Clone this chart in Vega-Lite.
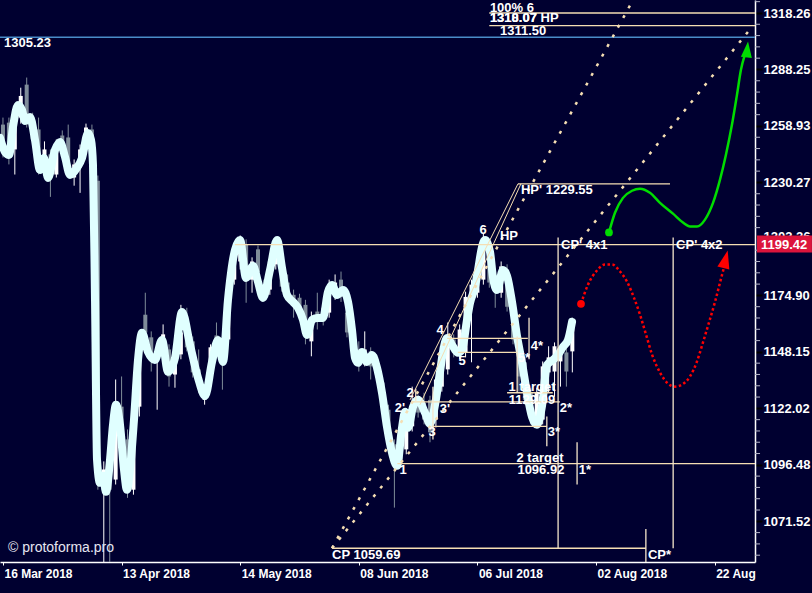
{
"$schema": "https://vega.github.io/schema/vega-lite/v6.json",
"width": 755, "height": 562,
"autosize": "none",
"padding": {"left": 0, "top": 0, "right": 57, "bottom": 31},
"background": "#000030",
"config": {"view": {"stroke": null}, "font": "Liberation Sans"},
"datasets": {
"candles": [
{"t":0,"o":1259.6,"h":1263.2,"l":1242.8,"c":1246.9},{"t":1,"o":1260.6,"h":1263.2,"l":1239.3,"c":1243.3},{"t":2,"o":1246.9,"h":1269.3,"l":1234.2,"c":1266.2},{"t":3,"o":1263.2,"h":1278.7,"l":1260.1,"c":1274.4},{"t":4,"o":1280.3,"h":1284.0,"l":1258.1,"c":1259.6},{"t":5,"o":1263.2,"h":1265.7,"l":1248.9,"c":1252.0},{"t":6,"o":1257.1,"h":1263.2,"l":1234.2,"c":1235.7},{"t":7,"o":1235.7,"h":1251.0,"l":1233.7,"c":1246.9},{"t":8,"o":1244.4,"h":1246.9,"l":1223.0,"c":1232.7},{"t":9,"o":1234.2,"h":1252.0,"l":1232.7,"c":1249.4},
{"t":10,"o":1254.0,"h":1256.6,"l":1246.9,"c":1248.4},{"t":11,"o":1253.0,"h":1259.6,"l":1237.8,"c":1240.8},{"t":12,"o":1232.7,"h":1241.8,"l":1228.6,"c":1239.3},{"t":13,"o":1237.8,"h":1249.4,"l":1225.0,"c":1246.9},{"t":14,"o":1249.4,"h":1260.1,"l":1246.9,"c":1258.1},{"t":15,"o":1257.1,"h":1259.6,"l":1231.7,"c":1234.2},{"t":16,"o":1231.1,"h":1233.7,"l":1085.3,"c":1094.3},{"t":17,"o":1085.3,"h":1097.9,"l":1050,"c":1094.3},{"t":18,"o":1094.3,"h":1098.8,"l":1050,"c":1085.3},{"t":19,"o":1089.8,"h":1135.2,"l":1087.6,"c":1123.6},
{"t":20,"o":1122.7,"h":1136.6,"l":1107.8,"c":1111.0},{"t":21,"o":1107.8,"h":1112.3,"l":1081.7,"c":1085.3},{"t":22,"o":1085.3,"h":1121.3,"l":1083.1,"c":1116.8},{"t":23,"o":1122.7,"h":1153.0,"l":1118.2,"c":1150.7},{"t":24,"o":1165.6,"h":1176.1,"l":1153.9,"c":1157.2},{"t":25,"o":1154.9,"h":1157.7,"l":1138.9,"c":1144.6},{"t":26,"o":1144.6,"h":1151.6,"l":1121.3,"c":1148.3},{"t":27,"o":1146.9,"h":1161.0,"l":1144.6,"c":1156.3},{"t":28,"o":1149.2,"h":1151.6,"l":1131.9,"c":1136.6},{"t":29,"o":1137.5,"h":1146.9,"l":1131.4,"c":1144.6},
{"t":30,"o":1146.9,"h":1170.3,"l":1144.6,"c":1157.2},{"t":31,"o":1161.9,"h":1168.9,"l":1148.3,"c":1150.2},{"t":32,"o":1153.0,"h":1155.3,"l":1136.1,"c":1138.5},{"t":33,"o":1139.9,"h":1149.2,"l":1129.1,"c":1132.8},{"t":34,"o":1125.8,"h":1132.8,"l":1123.6,"c":1130.5},{"t":35,"o":1135.2,"h":1151.6,"l":1132.8,"c":1150.2},{"t":36,"o":1155.8,"h":1161.9,"l":1148.3,"c":1150.7},{"t":37,"o":1151.6,"h":1153.9,"l":1130.5,"c":1142.2},{"t":38,"o":1153.9,"h":1181.5,"l":1151.6,"c":1179.0},{"t":39,"o":1182.4,"h":1198.1,"l":1180.0,"c":1194.6},
{"t":40,"o":1191.2,"h":1203.9,"l":1187.3,"c":1199.5},{"t":41,"o":1199.5,"h":1202.0,"l":1171.3,"c":1187.3},{"t":42,"o":1182.4,"h":1193.2,"l":1176.1,"c":1191.2},{"t":43,"o":1197.1,"h":1199.0,"l":1180.0,"c":1185.9},{"t":44,"o":1180.0,"h":1182.4,"l":1172.7,"c":1173.7},{"t":45,"o":1177.6,"h":1193.2,"l":1175.1,"c":1191.2},{"t":46,"o":1189.8,"h":1202.9,"l":1187.3,"c":1199.5},{"t":47,"o":1193.2,"h":1196.1,"l":1176.6,"c":1179.0},{"t":48,"o":1181.0,"h":1184.9,"l":1173.7,"c":1176.1},{"t":49,"o":1175.1,"h":1177.6,"l":1164.2,"c":1171.3},
{"t":50,"o":1173.7,"h":1175.6,"l":1165.6,"c":1168.0},{"t":51,"o":1170.3,"h":1172.7,"l":1151.6,"c":1158.6},{"t":52,"o":1153.0,"h":1167.1,"l":1146.0,"c":1164.2},{"t":53,"o":1167.1,"h":1176.1,"l":1158.6,"c":1162.4},{"t":54,"o":1168.9,"h":1171.3,"l":1160.5,"c":1162.4},{"t":55,"o":1166.6,"h":1182.4,"l":1164.2,"c":1180.0},{"t":56,"o":1175.1,"h":1184.9,"l":1172.7,"c":1181.0},{"t":57,"o":1182.4,"h":1186.3,"l":1171.7,"c":1174.1},{"t":58,"o":1166.6,"h":1170.3,"l":1154.9,"c":1157.2},{"t":59,"o":1157.2,"h":1160.5,"l":1146.9,"c":1149.2},
{"t":60,"o":1149.2,"h":1153.0,"l":1138.9,"c":1142.2},{"t":61,"o":1142.2,"h":1157.7,"l":1141.3,"c":1149.2},{"t":62,"o":1148.3,"h":1150.2,"l":1135.2,"c":1141.3},{"t":63,"o":1144.6,"h":1146.9,"l":1135.2,"c":1137.5},{"t":64,"o":1133.8,"h":1136.1,"l":1123.6,"c":1125.8},{"t":65,"o":1121.3,"h":1123.6,"l":1103.3,"c":1105.6},{"t":66,"o":1105.6,"h":1107.8,"l":1077.4,"c":1096.6},{"t":67,"o":1098.8,"h":1112.3,"l":1096.6,"c":1110.1},{"t":68,"o":1103.3,"h":1120.4,"l":1101.1,"c":1118.2},{"t":69,"o":1113.7,"h":1131.9,"l":1111.4,"c":1122.7},
{"t":70,"o":1125.8,"h":1128.2,"l":1117.7,"c":1120.0},{"t":71,"o":1124.5,"h":1129.1,"l":1114.6,"c":1116.8},{"t":72,"o":1125.8,"h":1127.7,"l":1106.5,"c":1111.0},{"t":73,"o":1116.8,"h":1136.1,"l":1113.2,"c":1135.2},{"t":74,"o":1131.9,"h":1153.0,"l":1129.6,"c":1150.7},{"t":75,"o":1139.9,"h":1161.9,"l":1137.5,"c":1151.6},{"t":76,"o":1153.9,"h":1156.3,"l":1145.5,"c":1147.8},{"t":77,"o":1146.9,"h":1161.0,"l":1144.6,"c":1158.6},{"t":78,"o":1147.8,"h":1176.6,"l":1145.5,"c":1174.1},{"t":79,"o":1172.7,"h":1182.4,"l":1143.2,"c":1180.0},
{"t":80,"o":1176.1,"h":1189.8,"l":1173.7,"c":1185.9},{"t":81,"o":1182.4,"h":1204.9,"l":1180.0,"c":1202.0},{"t":82,"o":1195.6,"h":1198.1,"l":1178.5,"c":1181.0},{"t":83,"o":1182.4,"h":1184.4,"l":1168.9,"c":1176.6},{"t":84,"o":1176.1,"h":1191.2,"l":1173.7,"c":1188.8},{"t":85,"o":1187.3,"h":1189.8,"l":1167.1,"c":1169.4},{"t":86,"o":1174.1,"h":1176.6,"l":1151.6,"c":1153.9},{"t":87,"o":1147.8,"h":1150.2,"l":1129.6,"c":1136.6},{"t":88,"o":1143.2,"h":1145.5,"l":1123.6,"c":1125.8},{"t":89,"o":1129.1,"h":1131.4,"l":1114.6,"c":1116.8},
{"t":90,"o":1116.8,"h":1131.4,"l":1114.6,"c":1129.1},{"t":91,"o":1116.8,"h":1143.6,"l":1114.6,"c":1141.3},{"t":92,"o":1138.5,"h":1150.7,"l":1129.1,"c":1145.5},{"t":93,"o":1138.9,"h":1152.5,"l":1127.2,"c":1150.7},{"t":94,"o":1143.6,"h":1151.6,"l":1131.9,"c":1149.2},{"t":95,"o":1147.8,"h":1150.2,"l":1131.9,"c":1138.9},{"t":96,"o":1148.3,"h":1164.2,"l":1138.5,"c":1163.3}
],
"smooth": [
{"t":-0.5,"p":1252.75},{"t":0.34,"p":1245.62},{"t":1.02,"p":1244.1},{"t":1.69,"p":1258.39},{"t":2.54,"p":1269.73},{"t":3.21,"p":1267.14},{"t":3.72,"p":1261.47},{"t":4.56,"p":1263.53},{"t":5.4,"p":1251.73},{"t":6.24,"p":1236.51},{"t":6.92,"p":1242.58},{"t":7.59,"p":1232.49},{"t":8.77,"p":1246.64},{"t":9.62,"p":1250.71},{"t":10.46,"p":1243.08},{"t":11.3,"p":1233.99},{"t":12.48,"p":1237.52},{"t":13.33,"p":1242.58},{"t":14.34,"p":1255.31},{"t":14.84,"p":1251.73},{"t":15.18,"p":1239.03},{"t":15.52,"p":1172.67},{"t":15.86,"p":1098.6},{"t":16.36,"p":1088.35},{"t":16.87,"p":1091.46},{"t":17.37,"p":1084.36},{"t":18.05,"p":1098.6},{"t":18.55,"p":1114.39},{"t":19.06,"p":1123.52},{"t":19.73,"p":1114.39},{"t":20.41,"p":1094.13},{"t":20.91,"p":1085.24},{"t":21.42,"p":1094.13},{"t":22.09,"p":1116.67},{"t":22.77,"p":1144.32},{"t":23.44,"p":1157.0},{"t":24.45,"p":1148.06},{"t":25.63,"p":1144.32},{"t":26.82,"p":1153.69},{"t":27.83,"p":1138.74},{"t":29.01,"p":1145.26},{"t":30.19,"p":1166.94},{"t":31.54,"p":1151.35},{"t":32.89,"p":1135.96},{"t":34.07,"p":1127.65},{"t":35.25,"p":1143.39},{"t":36.26,"p":1153.69},{"t":37.1,"p":1143.39},{"t":37.94,"p":1172.67},{"t":39.12,"p":1196.82},{"t":39.97,"p":1201.71},{"t":40.98,"p":1183.24},{"t":42.16,"p":1189.04},{"t":43.0,"p":1181.31},{"t":43.84,"p":1173.63},{"t":45.03,"p":1187.1},{"t":46.21,"p":1201.71},{"t":47.05,"p":1188.07},{"t":47.89,"p":1175.07},{"t":48.9,"p":1171.71},{"t":49.75,"p":1168.85},{"t":50.59,"p":1163.14},{"t":51.26,"p":1156.05},{"t":52.11,"p":1163.14},{"t":52.95,"p":1164.09},{"t":53.96,"p":1164.09},{"t":54.8,"p":1176.5},{"t":55.48,"p":1179.87},{"t":56.32,"p":1175.07},{"t":57.33,"p":1177.46},{"t":58.18,"p":1171.71},{"t":58.85,"p":1158.41},{"t":59.36,"p":1145.26},{"t":59.86,"p":1142.93},{"t":60.54,"p":1148.06},{"t":61.38,"p":1143.39},{"t":62.22,"p":1146.66},{"t":63.07,"p":1140.6},{"t":63.91,"p":1129.03},{"t":64.75,"p":1113.49},{"t":65.6,"p":1101.74},{"t":66.44,"p":1095.92},{"t":67.28,"p":1113.03},{"t":67.79,"p":1120.32},{"t":68.29,"p":1113.03},{"t":69.14,"p":1122.6},{"t":69.98,"p":1125.81},{"t":71.16,"p":1119.86},{"t":72.0,"p":1114.85},{"t":72.85,"p":1123.52},{"t":73.69,"p":1138.74},{"t":74.19,"p":1148.06},{"t":74.87,"p":1154.63},{"t":75.71,"p":1151.35},{"t":76.72,"p":1147.6},{"t":77.4,"p":1149.0},{"t":78.24,"p":1163.14},{"t":78.75,"p":1171.24},{"t":79.59,"p":1178.9},{"t":80.1,"p":1187.1},{"t":80.77,"p":1198.29},{"t":81.28,"p":1201.71},{"t":82.12,"p":1195.85},{"t":82.63,"p":1183.24},{"t":83.3,"p":1177.46},{"t":84.31,"p":1187.1},{"t":84.99,"p":1184.2},{"t":85.83,"p":1171.71},{"t":86.67,"p":1155.58},{"t":87.52,"p":1142.93},{"t":88.36,"p":1129.03},{"t":89.2,"p":1118.04},{"t":90.04,"p":1114.39},{"t":90.89,"p":1123.06},{"t":91.73,"p":1141.99},{"t":92.74,"p":1144.32},{"t":93.58,"p":1146.66},{"t":94.43,"p":1150.41},{"t":95.27,"p":1153.69},{"t":95.95,"p":1162.19}
],
"blue": [{"t":-0.5,"t2":126.8,"p":1305.23}],
"levels": [
{"name":"100% 6","t":82,"t2":126.8,"p":1318.26},
{"name":"1311.50","t":82,"t2":126.8,"p":1311.5},
{"name":"HP'","t":86.84,"t2":112.47,"p":1229.55},
{"name":"HP","t":39.1,"t2":126.8,"p":1199.42},
{"name":"2 target","t":66.5,"t2":126.8,"p":1096.92},
{"name":"3","t":72.3,"t2":91.7,"p":1113.67},
{"name":"2","t":69.1,"t2":93.9,"p":1124.9},
{"name":"4","t":74.9,"t2":88.5,"p":1154.4},
{"name":"5","t":76.7,"t2":86.7,"p":1147.8},
{"name":"1 target","t":85.0,"t2":92.7,"p":1129.09},
{"name":"CP","t":55.5,"t2":108.4,"p":1059.69}
],
"vlines": [
{"name":"CP' 4x1","t":93.6,"p":1202.9,"p2":1059.69},
{"name":"CP' 4x2","t":113.0,"p":1202.9,"p2":1059.69},
{"name":"CP*","t":108.4,"p":1068.0,"p2":1053.76},
{"name":"1*","t":96.8,"p":1106.5,"p2":1087.6},
{"name":"3*","t":91.7,"p":1118.2,"p2":1104.7},
{"name":"4*","t":88.7,"p":1164.2,"p2":1144.6},
{"name":"5*","t":86.7,"p":1155.3,"p2":1129.1},
{"name":"3","t":72.5,"p":1131.9,"p2":1107.8},
{"name":"2","t":69.6,"p":1130.9,"p2":1124.9}
],
"wedge": [
{"id":"A","t":68.63,"p":1125.81},{"id":"A","t":86.84,"p":1229.55},
{"id":"B","t":70.31,"p":1123.56},{"id":"B","t":87.34,"p":1229.55}
],
"dotted": [
{"id":"L","t":55.48,"p":1059.69},{"id":"L","t":106.23,"p":1325.27},
{"id":"R","t":55.48,"p":1059.69},{"id":"R","t":126.46,"p":1311.5}
],
"green": [
{"t":102.18,"p":1205.37},{"t":103.19,"p":1215.13},{"t":104.54,"p":1222.5},{"t":106.06,"p":1226.06},{"t":107.41,"p":1227.08},{"t":109.09,"p":1225.04},{"t":110.78,"p":1220.02},{"t":112.97,"p":1214.65},{"t":114.66,"p":1210.25},{"t":115.84,"p":1208.3},{"t":117.02,"p":1208.3},{"t":118.37,"p":1211.72},{"t":119.72,"p":1220.02},{"t":120.9,"p":1231.65},{"t":121.91,"p":1244.36},{"t":122.92,"p":1259.61},{"t":123.76,"p":1274.97},{"t":124.44,"p":1288.2},{"t":125.11,"p":1296.15}
],
"greenHead": [{"t":125.45,"p":1297.74}],
"greenStart": [{"t":102.18,"p":1205.37}],
"red": [
{"t":97.46,"p":1170.8},{"t":98.64,"p":1179.99},{"t":100.16,"p":1186.83},{"t":101.51,"p":1189.75},{"t":102.69,"p":1189.75},{"t":104.04,"p":1186.34},{"t":105.22,"p":1181.46},{"t":106.4,"p":1173.65},{"t":107.41,"p":1165.64},{"t":108.42,"p":1156.27},{"t":109.43,"p":1146.9},{"t":110.78,"p":1138.46},{"t":112.13,"p":1133.3},{"t":113.31,"p":1131.9},{"t":114.49,"p":1132.84},{"t":115.84,"p":1136.59},{"t":117.02,"p":1143.62},{"t":118.03,"p":1152.52},{"t":119.04,"p":1161.89},{"t":120.06,"p":1171.73},{"t":120.9,"p":1180.97},{"t":121.57,"p":1188.29}
],
"redHead": [{"t":121.74,"p":1191.22}],
"redStart": [{"t":97.46,"p":1170.8}],
"labelsLeft": [
{"t":0.17,"p":1301.97,"text":"1305.23"},
{"t":82.1,"p":1321.2,"text":"100% 6"},
{"t":82.1,"p":1315.5,"text":"1310.07 HP"},
{"t":82.1,"p":1315.5,"text":"1318.07"},
{"t":83.8,"p":1308.86,"text":"1311.50"},
{"t":87.34,"p":1226.47,"text":"HP' 1229.55"},
{"t":83.8,"p":1203.42,"text":"HP"},
{"t":94.1,"p":1199.42,"text":"CP' 4x1"},
{"t":113.5,"p":1199.42,"text":"CP' 4x2"},
{"t":55.48,"p":1056.86,"text":"CP 1059.69"},
{"t":108.75,"p":1056.86,"text":"CP*"}
],
"labelsCenter": [
{"t":80.94,"p":1206.35,"text":"6"},
{"t":73.69,"p":1158.14,"text":"4"},
{"t":77.4,"p":1143.62,"text":"5"},
{"t":66.94,"p":1122.2,"text":"2'"},
{"t":68.63,"p":1129.09,"text":"2"},
{"t":74.53,"p":1121.76,"text":"3'"},
{"t":72.34,"p":1110.97,"text":"3"},
{"t":67.45,"p":1093.87,"text":"1"},
{"t":90.04,"p":1150.8,"text":"4*"},
{"t":87.85,"p":1145.0,"text":"5*"},
{"t":94.93,"p":1122.2,"text":"2*"},
{"t":92.9,"p":1111.0,"text":"3*"},
{"t":98.13,"p":1093.87,"text":"1*"},
{"t":89.2,"p":1131.9,"text":"1 target"},
{"t":89.2,"p":1125.8,"text":"1129.09"},
{"t":90.55,"p":1099.27,"text":"2 target"},
{"t":90.7,"p":1093.87,"text":"1096.92"}
],
"credit": [{"t":0.85,"p":1059.88,"text":"© protoforma.pro"}],
"lastPrice": [{"t":127.14,"t2":136.4,"p":1203.91,"p2":1195.61,"lt":127.81,"price":1199.42,"text":"1199.42"}],
"minorTicks": [
{"p":1324.37},{"p":1312.21},{"p":1306.17},{"p":1300.17},{"p":1294.19},{"p":1282.32},{"p":1276.42},{"p":1270.56},{"p":1264.71},{"p":1253.11},{"p":1247.35},{"p":1241.61},{"p":1235.91},{"p":1224.57},{"p":1218.94},{"p":1213.33},{"p":1207.75},{"p":1196.67},{"p":1191.17},{"p":1185.7},{"p":1180.25},{"p":1169.42},{"p":1164.04},{"p":1158.69},{"p":1153.36},{"p":1142.79},{"p":1137.54},{"p":1132.3},{"p":1127.1},{"p":1116.76},{"p":1111.62},{"p":1106.52},{"p":1101.43},{"p":1091.33},{"p":1086.31},{"p":1081.32},{"p":1076.34},{"p":1066.47},{"p":1061.56},{"p":1056.68}
]
},
"layer": [
{"data":{"name":"candles"},"mark":{"type":"rule","strokeWidth":1,"clip":true},
 "encoding":{
  "x":{"field":"t","type":"quantitative","scale":{"domain":[-0.5,126.8],"nice":false,"zero":false},
   "axis":{"title":null,"orient":"bottom","values":[0,20,40,60,80,100,120],"labelExpr":"datum.value == 0 ? '16 Mar 2018' : datum.value == 20 ? '13 Apr 2018' : datum.value == 40 ? '14 May 2018' : datum.value == 60 ? '08 Jun 2018' : datum.value == 80 ? '06 Jul 2018' : datum.value == 100 ? '02 Aug 2018' : '22 Aug'","labelAlign":"left","labelFlush":false,"labelOffset":1,"labelColor":"#FFFFFF","labelFont":"Liberation Sans","labelFontWeight":"bold","labelFontSize":12,"labelPadding":3,"tickColor":"#FFFFFF","tickSize":3,"domainColor":"#FFFFFF","domainWidth":1.5,"grid":false}},
  "y":{"field":"l","type":"quantitative","scale":{"type":"log","domain":[1053.76,1325.27],"nice":false},
   "axis":{"title":null,"orient":"right","values":[1071.52,1096.48,1122.02,1148.15,1174.90,1203.26,1230.27,1258.93,1288.25,1318.26],"format":".2f","labelColor":"#FFFFFF","labelFont":"Liberation Sans","labelFontWeight":"bold","labelFontSize":13,"labelPadding":1,"tickColor":"#000000","tickSize":7,"tickWidth":2,"domainColor":"#FFFFFF","domainWidth":1.5,"grid":false}},
  "y2":{"field":"h"},
  "color":{"condition":{"test":"datum.c >= datum.o","value":"#FFFFFF"},"value":"#7F8C99"}
 }},
{"data":{"name":"candles"},"mark":{"type":"rule","strokeWidth":4,"strokeCap":"butt","clip":true},
 "encoding":{"x":{"field":"t","type":"quantitative"},"y":{"field":"o","type":"quantitative"},"y2":{"field":"c"},
  "color":{"condition":{"test":"datum.c >= datum.o","value":"#FFFFFF"},"value":"#7F8C99"}}},
{"data":{"name":"smooth"},"mark":{"type":"line","color":"#E0FFFF","strokeWidth":8,"interpolate":"monotone","strokeCap":"round","strokeJoin":"round","clip":true},
 "encoding":{"x":{"field":"t","type":"quantitative"},"y":{"field":"p","type":"quantitative"}}},
{"data":{"name":"blue"},"mark":{"type":"rule","color":"#4A8CC8","strokeWidth":1.5},
 "encoding":{"x":{"field":"t","type":"quantitative"},"x2":{"field":"t2"},"y":{"field":"p","type":"quantitative"}}},
{"data":{"name":"levels"},"mark":{"type":"rule","color":"#F5DEB3","strokeWidth":1.3},
 "encoding":{"x":{"field":"t","type":"quantitative"},"x2":{"field":"t2"},"y":{"field":"p","type":"quantitative"}}},
{"data":{"name":"vlines"},"mark":{"type":"rule","color":"#F5E6CC","strokeWidth":1.3,"clip":true},
 "encoding":{"x":{"field":"t","type":"quantitative"},"y":{"field":"p","type":"quantitative"},"y2":{"field":"p2"}}},
{"data":{"name":"wedge"},"mark":{"type":"line","color":"#F5DEB3","strokeWidth":1},
 "encoding":{"x":{"field":"t","type":"quantitative"},"y":{"field":"p","type":"quantitative"},"detail":{"field":"id"}}},
{"data":{"name":"dotted"},"mark":{"type":"line","color":"#F5DEB3","strokeWidth":2.5,"strokeDash":[3,8],"clip":true},
 "encoding":{"x":{"field":"t","type":"quantitative"},"y":{"field":"p","type":"quantitative"},"detail":{"field":"id"}}},
{"data":{"name":"green"},"mark":{"type":"line","color":"#00DD00","strokeWidth":2.5,"interpolate":"monotone"},
 "encoding":{"x":{"field":"t","type":"quantitative"},"y":{"field":"p","type":"quantitative"}}},
{"data":{"name":"greenHead"},"mark":{"type":"point","shape":"M-0.55,0.6L0.55,0.6L0,-1Z","filled":true,"color":"#00DD00","opacity":1,"size":400,"angle":6},
 "encoding":{"x":{"field":"t","type":"quantitative"},"y":{"field":"p","type":"quantitative"}}},
{"data":{"name":"greenStart"},"mark":{"type":"point","shape":"circle","filled":true,"color":"#00DD00","opacity":1,"size":60},
 "encoding":{"x":{"field":"t","type":"quantitative"},"y":{"field":"p","type":"quantitative"}}},
{"data":{"name":"red"},"mark":{"type":"line","color":"#FF0000","strokeWidth":2.5,"strokeDash":[2.5,2.5],"interpolate":"monotone"},
 "encoding":{"x":{"field":"t","type":"quantitative"},"y":{"field":"p","type":"quantitative"}}},
{"data":{"name":"redHead"},"mark":{"type":"point","shape":"M-0.55,0.6L0.55,0.6L0,-1Z","filled":true,"color":"#FF0000","opacity":1,"size":500,"angle":14},
 "encoding":{"x":{"field":"t","type":"quantitative"},"y":{"field":"p","type":"quantitative"}}},
{"data":{"name":"redStart"},"mark":{"type":"point","shape":"circle","filled":true,"color":"#FF0000","opacity":1,"size":60},
 "encoding":{"x":{"field":"t","type":"quantitative"},"y":{"field":"p","type":"quantitative"}}},
{"data":{"name":"labelsLeft"},"mark":{"type":"text","align":"left","baseline":"middle","font":"Liberation Sans","fontWeight":"bold","fontSize":13,"color":"#FFFFFF"},
 "encoding":{"x":{"field":"t","type":"quantitative"},"y":{"field":"p","type":"quantitative"},"text":{"field":"text"}}},
{"data":{"name":"labelsCenter"},"mark":{"type":"text","align":"center","baseline":"middle","font":"Liberation Sans","fontWeight":"bold","fontSize":13,"color":"#FFFFFF"},
 "encoding":{"x":{"field":"t","type":"quantitative"},"y":{"field":"p","type":"quantitative"},"text":{"field":"text"}}},
{"data":{"name":"credit"},"mark":{"type":"text","align":"left","baseline":"middle","font":"Liberation Sans","fontSize":14,"color":"#E6E6F0"},
 "encoding":{"x":{"field":"t","type":"quantitative"},"y":{"field":"p","type":"quantitative"},"text":{"field":"text"}}},
{"data":{"name":"minorTicks"},"mark":{"type":"rule","color":"#B4B4C8","strokeWidth":1,"clip":false},
 "encoding":{"y":{"field":"p","type":"quantitative"},"x":{"datum":126.8,"type":"quantitative"},"x2":{"datum":127.65}}},
{"data":{"name":"lastPrice"},"mark":{"type":"rect","color":"#DC143C","clip":false},
 "encoding":{"x":{"field":"t","type":"quantitative"},"x2":{"field":"t2"},"y":{"field":"p","type":"quantitative"},"y2":{"field":"p2"}}},
{"data":{"name":"lastPrice"},"mark":{"type":"text","align":"left","baseline":"middle","font":"Liberation Sans","fontWeight":"bold","fontSize":13,"color":"#FFFFFF","clip":false},
 "encoding":{"x":{"field":"lt","type":"quantitative"},"y":{"field":"price","type":"quantitative"},"text":{"field":"text"}}},
{"mark":{"type":"rule","color":"#FFFFFF","strokeWidth":2,"clip":false},
 "encoding":{"x":{"datum":-0.45,"type":"quantitative"}}},
{"mark":{"type":"rule","color":"#FFFFFF","strokeWidth":1.5,"clip":false},
 "encoding":{"x":{"datum":126.8,"type":"quantitative"},"y":{"datum":1053.76,"type":"quantitative"},"y2":{"datum":1040}}},
{"mark":{"type":"rule","color":"#FFFFFF","strokeWidth":1.5,"clip":false},
 "encoding":{"y":{"datum":1053.76,"type":"quantitative"},"x":{"datum":126.8,"type":"quantitative"},"x2":{"datum":137}}},
{"mark":{"type":"rule","color":"#C8C8D8","strokeWidth":2,"clip":false},
 "encoding":{"x":{"datum":136.3,"type":"quantitative"},"y":{"datum":1325.27,"type":"quantitative"},"y2":{"datum":1040}}}
]
}
